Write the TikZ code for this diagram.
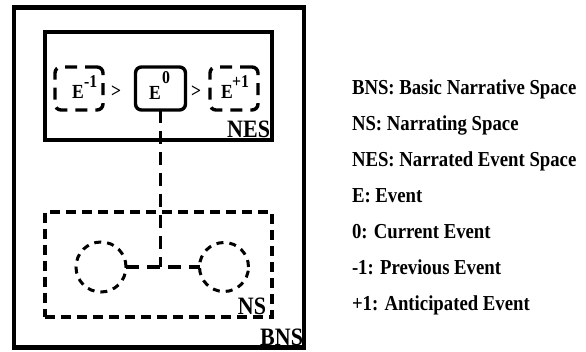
\documentclass[tikz,border=0pt]{standalone}
\usepackage{fontspec}
\setmainfont{Liberation Serif}
\newfontfamily\narrowserif{Liberation Serif}[FakeStretch=0.88]
\begin{document}
\begin{tikzpicture}[x=1pt,y=-1pt,
  every node/.style={inner sep=0pt, outer sep=0pt},
  solidbox/.style={draw, line width=4.2pt},
  dashbox/.style={draw, line width=3.6pt, dash pattern=on 10pt off 6pt},
  eventbox/.style={draw, line width=3.4pt, rounded corners=6pt, minimum width=48pt, minimum height=43pt},
  otherbox/.style={eventbox, dash pattern=on 12pt off 8pt},
  spot/.style={draw, circle, line width=3pt, dash pattern=on 7pt off 6pt},
  link/.style={line width=3.6pt, dash pattern=on 13pt off 8pt},
  tag/.style={font=\narrowserif\bfseries\fontsize{25}{25}\selectfont, anchor=base east},
  evtext/.style={font=\narrowserif\bfseries\fontsize{20}{20}\selectfont, anchor=base west},
  suptext/.style={font=\narrowserif\bfseries\fontsize{18}{18}\selectfont, anchor=base west},
  legend/.style={font=\narrowserif\bfseries\fontsize{21.3}{21.3}\selectfont, anchor=base west}
]
\useasboundingbox (0,0) rectangle (586,352);

% basic narrative space
\node[solidbox, minimum width=290pt, minimum height=340pt] (bns) at (159,177.5) {};
% narrated event space
\node[solidbox, minimum width=227pt, minimum height=108pt] (nes) at (158.5,86) {};
% narrating space
\node[dashbox, minimum width=227pt, minimum height=105pt] (ns) at (158.5,264.5) {};

% events
\node[otherbox] (eprev) at (79,88.5) {};
\node[eventbox, minimum width=50pt] (e0) at (160.5,88.5) {};
\node[otherbox] (enext) at (234,88.5) {};

\node[evtext] (eprevE) at (72,99) {E};
\node[suptext] (eprevS) at (84,88) {-1};
\node[evtext] (e0E) at (149,100) {E};
\node[suptext] (e0S) at (162,84) {0};
\node[evtext] (enextE) at (221,99) {E};
\node[suptext] (enextS) at (232,88) {+1};

\node[evtext] (gt1) at (111,98) {>};
\node[evtext] (gt2) at (191,98) {>};

% narrating space participants
\node[spot, minimum size=50pt] (c1) at (101,267) {};
\node[spot, minimum size=49pt] (c2) at (224,267) {};
\coordinate (hub) at (160.5,267);
\draw[link] (e0) -- (hub);
\draw[link] (c1) -- (c2);

% space labels
\node[tag] (nesL) at (270,138) {NES};
\node[tag] (nsL) at (266,315) {NS};
\node[tag] (bnsL) at (303,345) {BNS};

% legend
\node[legend] (l1) at (352,95) {BNS: Basic Narrative Space};
\node[legend] (l2) at (352,131) {NS: Narrating Space};
\node[legend] (l3) at (352,167) {NES: Narrated Event Space};
\node[legend] (l4) at (352,203) {E: Event};
\node[legend] (l5) at (352,239) {0: Current Event};
\node[legend] (l6) at (352,275) {-1: Previous Event};
\node[legend] (l7) at (352,311) {+1: Anticipated Event};
\end{tikzpicture}
\end{document}
